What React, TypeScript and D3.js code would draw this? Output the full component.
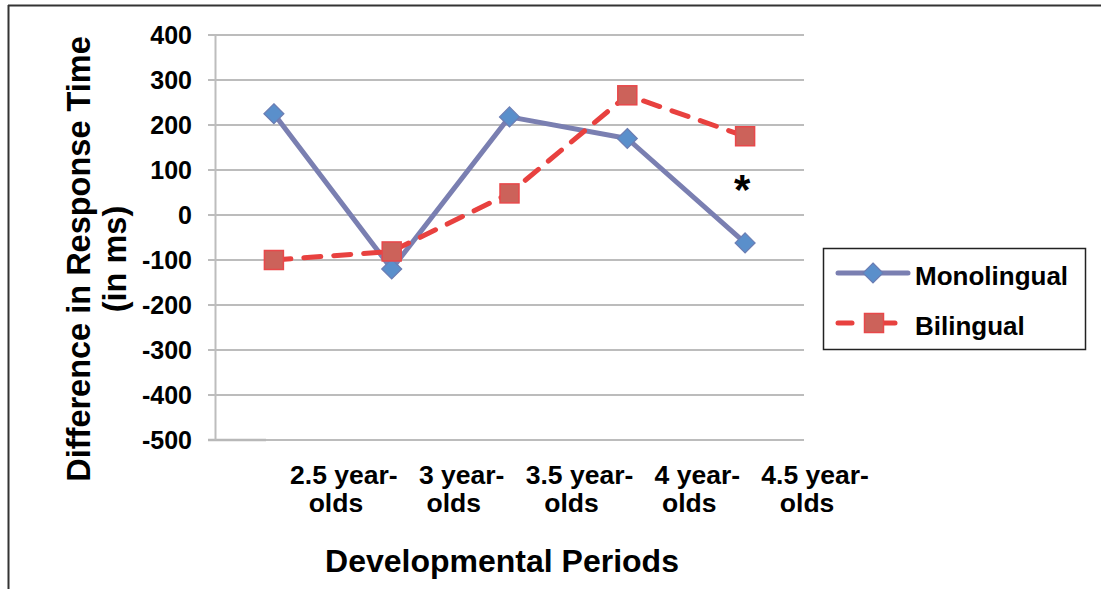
import React from "react";
import * as d3 from "d3";

const categories = ["2.5 year-olds", "3 year-olds", "3.5 year-olds", "4 year-olds", "4.5 year-olds"];
const labelLine1 = ["2.5 year-", "3 year-", "3.5 year-", "4 year-", "4.5 year-"];
const labelLine2 = ["olds", "olds", "olds", "olds", "olds"];
const monolingual = [225, -120, 218, 170, -62];
const bilingual = [-100, -81, 48, 266, 175];
const yTicks = [400, 300, 200, 100, 0, -100, -200, -300, -400, -500];
const asteriskValue = 70;
const asteriskIndex = 4;

const FONT = "'Liberation Sans', Arial, Helvetica, sans-serif";
const MONO_LINE = "#7a7fb1";
const MONO_FILL = "#5a8fcb";
const MONO_STROKE = "#6c7db3";
const BI_LINE = "#e8413f";
const BI_FILL = "#cc625a";
const BI_STROKE = "#e8484a";

export default function App() {
  const x = d3.scaleBand<string>().domain(categories).range([215, 804]);
  const y = d3.scaleLinear().domain([-500, 400]).range([440, 35]);
  const cx = (i: number) => (x(categories[i]) as number) + x.bandwidth() / 2;

  const line = d3
    .line<number>()
    .x((_, i) => cx(i))
    .y((d) => y(d));

  const diamond = (px: number, py: number, r: number) =>
    `M${px},${py - r}L${px + r},${py}L${px},${py + r}L${px - r},${py}Z`;

  const sq = 19;

  return (
    <svg
      width={1101}
      height={589}
      style={{ position: "absolute", left: 0, top: 0, background: "#fff" }}
      fontFamily={FONT}
    >
      {/* figure border */}
      <line x1={8} x2={1101} y1={5.5} y2={5.5} stroke="#333" strokeWidth={2} />
      <line x1={8.5} x2={8.5} y1={5} y2={589} stroke="#333" strokeWidth={2} />

      {/* gridlines */}
      {yTicks.map((t) => (
        <line
          key={t}
          x1={208}
          x2={804}
          y1={y(t)}
          y2={y(t)}
          stroke="#a6a6a6"
          strokeWidth={1.5}
        />
      ))}
      <line x1={208} x2={266} y1={y(-500)} y2={y(-500)} stroke="#b8b8b8" strokeWidth={2.5} />
      {/* y axis line */}
      <line x1={215.5} x2={215.5} y1={y(400)} y2={y(-500)} stroke="#bdbdbd" strokeWidth={2} />

      {/* y tick labels */}
      {yTicks.map((t) => (
        <text
          key={t}
          x={192}
          y={y(t)}
          dy="0.36em"
          textAnchor="end"
          fontSize={25}
          fontWeight="bold"
          fill="#000"
        >
          {t}
        </text>
      ))}

      {/* x tick labels */}
      {categories.map((c, i) => (
        <g key={c}>
          <text x={cx(i) + 70} y={484} textAnchor="middle" fontSize={26.5} fontWeight="bold">
            {labelLine1[i]}
          </text>
          <text x={cx(i) + 62} y={512} textAnchor="middle" fontSize={26.5} fontWeight="bold">
            {labelLine2[i]}
          </text>
        </g>
      ))}

      {/* axis titles */}
      <text x={502} y={572} textAnchor="middle" fontSize={32} fontWeight="bold">
        Developmental Periods
      </text>
      <text
        transform="translate(90,259) rotate(-90)"
        textAnchor="middle"
        fontSize={32.5}
        fontWeight="bold"
      >
        Difference in Response Time
      </text>
      <text
        transform="translate(126,259) rotate(-90)"
        textAnchor="middle"
        fontSize={32.5}
        fontWeight="bold"
      >
        (in ms)
      </text>

      {/* Monolingual series */}
      <path d={line(monolingual) || ""} fill="none" stroke={MONO_LINE} strokeWidth={5} strokeLinejoin="round" />
      {monolingual.map((v, i) => (
        <path key={i} d={diamond(cx(i), y(v), 10)} fill={MONO_FILL} stroke={MONO_STROKE} strokeWidth={1.2} />
      ))}

      {/* Bilingual series */}
      <path
        d={line(bilingual) || ""}
        fill="none"
        stroke={BI_LINE}
        strokeWidth={5}
        strokeDasharray="17 13"
        strokeLinecap="round"
      />
      {bilingual.map((v, i) => (
        <rect
          key={i}
          x={cx(i) - sq / 2}
          y={y(v) - sq / 2}
          width={sq}
          height={sq}
          fill={BI_FILL}
          stroke={BI_STROKE}
          strokeWidth={1.5}
        />
      ))}

      {/* significance marker */}
      <text x={cx(asteriskIndex) - 3} y={y(asteriskValue) + 20} textAnchor="middle" fontSize={42} fontWeight="bold">
        *
      </text>

      {/* legend */}
      <rect x={823.5} y={248.5} width={262} height={101} fill="#fff" stroke="#222" strokeWidth={1.5} />
      <line x1={838} x2={908} y1={273} y2={273} stroke={MONO_LINE} strokeWidth={5} strokeLinecap="round" />
      <path d={diamond(873, 273, 10)} fill={MONO_FILL} stroke={MONO_STROKE} strokeWidth={1.2} />
      <text x={915} y={285} fontSize={26} fontWeight="bold">
        Monolingual
      </text>
      <line x1={838} x2={852} y1={323} y2={323} stroke={BI_LINE} strokeWidth={5} strokeLinecap="round" />
      <line x1={883} x2={895} y1={323} y2={323} stroke={BI_LINE} strokeWidth={5} strokeLinecap="round" />
      <rect x={864.5} y={313.5} width={sq} height={sq} fill={BI_FILL} stroke={BI_STROKE} strokeWidth={1.5} />
      <text x={915} y={335} fontSize={26} fontWeight="bold">
        Bilingual
      </text>
    </svg>
  );
}
